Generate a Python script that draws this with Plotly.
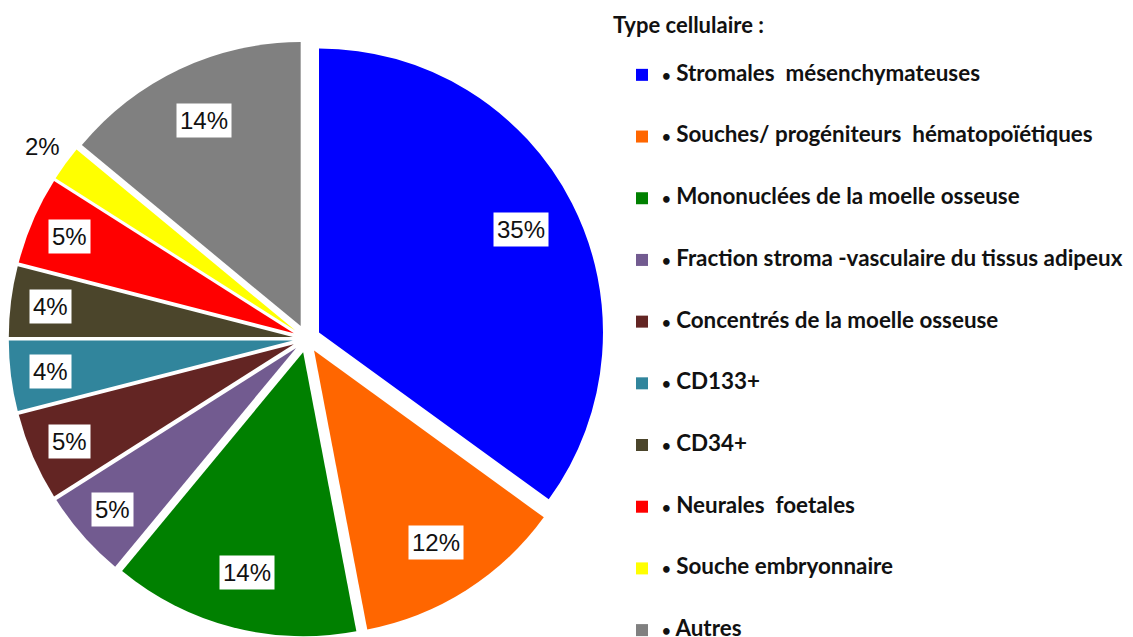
import math
import plotly.graph_objects as go

categories = [
    "Stromales  mésenchymateuses",
    "Souches/ progéniteurs  hématopoïétiques",
    "Mononuclées de la moelle osseuse",
    "Fraction stroma -vasculaire du tissus adipeux",
    "Concentrés de la moelle osseuse",
    "CD133+",
    "CD34+",
    "Neurales  foetales",
    "Souche embryonnaire",
    "Autres",
]
values = [35, 12, 14, 5, 5, 4, 4, 5, 2, 14]
colors = ["#0000FF", "#FF6600", "#008000", "#725B90", "#632523",
          "#31859C", "#4B452B", "#FF0000", "#FFFF00", "#808080"]
legend_title = "Type cellulaire :"

# figure is taller than the window so the long legend can run past the bottom edge
W, H = 1133, 700
PULL = 0.049
DOM_X = [0.0006, 0.5265]
DOM_Y = [1 - 628.6 / H, 1 - 32.8 / H]

LEG_FS = 15.05
ITEM_FS = 22.4
legend_labels = [
    "\u00a0<br><span style='font-size:%.1fpx'><b><span style='font-size:15px'>\u2022</span> %s</b></span><br>\u00a0"
    % (ITEM_FS, c.replace("  ", " \u00a0")) for c in categories
]

fig = go.Figure(go.Pie(
    labels=legend_labels,
    values=values,
    sort=False,
    direction="clockwise",
    rotation=0,
    pull=[PULL] * len(values),
    marker=dict(colors=colors, line=dict(color="white", width=0)),
    textinfo="none",
    hoverinfo="percent",
    domain=dict(x=DOM_X, y=DOM_Y),
))

# percentage labels positioned from the data (slice mid-angles)
rx = W * (DOM_X[1] - DOM_X[0]) / 2
ry = H * (DOM_Y[1] - DOM_Y[0]) / 2
r = min(rx, ry) / (1 + PULL)
cx = W * (DOM_X[0] + DOM_X[1]) / 2
cy = H * (1 - (DOM_Y[0] + DOM_Y[1]) / 2)
total = sum(values)
cum = 0
annotations = []
for v in values:
    mid = (cum + v / 2) / total * 2 * math.pi
    cum += v
    pct = round(v / total * 100)
    if v / total < 0.03:
        f, box = 1.10, False
    elif v / total >= 0.10:
        f, box = 0.80, True
    else:
        f, box = 0.86, True
    d = (PULL + f) * r
    px = cx + d * math.sin(mid)
    py = cy - d * math.cos(mid)
    annotations.append(dict(
        x=px / W, y=1 - py / H, xref="paper", yref="paper",
        xanchor="center", yanchor="middle",
        text="%d%%" % pct, showarrow=False,
        font=dict(family="Liberation Sans, Arial", size=24, color="#111111"),
        bgcolor="white" if box else "rgba(0,0,0,0)",
        borderpad=3,
    ))

annotations.append(dict(
    x=603 / W, y=1 - 17 / H, xref="paper", yref="paper",
    xanchor="left", yanchor="middle", showarrow=False,
    text="<b>%s</b>" % legend_title,
    font=dict(family="Lato", size=22, color="#111111"),
))

fig.update_layout(
    width=W, height=H,
    margin=dict(l=0, r=0, t=0, b=0),
    paper_bgcolor="white",
    plot_bgcolor="white",
    annotations=annotations,
    showlegend=True,
    legend=dict(
        x=614 / W, xanchor="left", y=1 - 31 / H, yanchor="top",
        font=dict(family="Lato", size=LEG_FS, color="#111111"),
        maxheight=3000,
        bgcolor="rgba(0,0,0,0)",
    ),
)

fig.write_html("out.html")
